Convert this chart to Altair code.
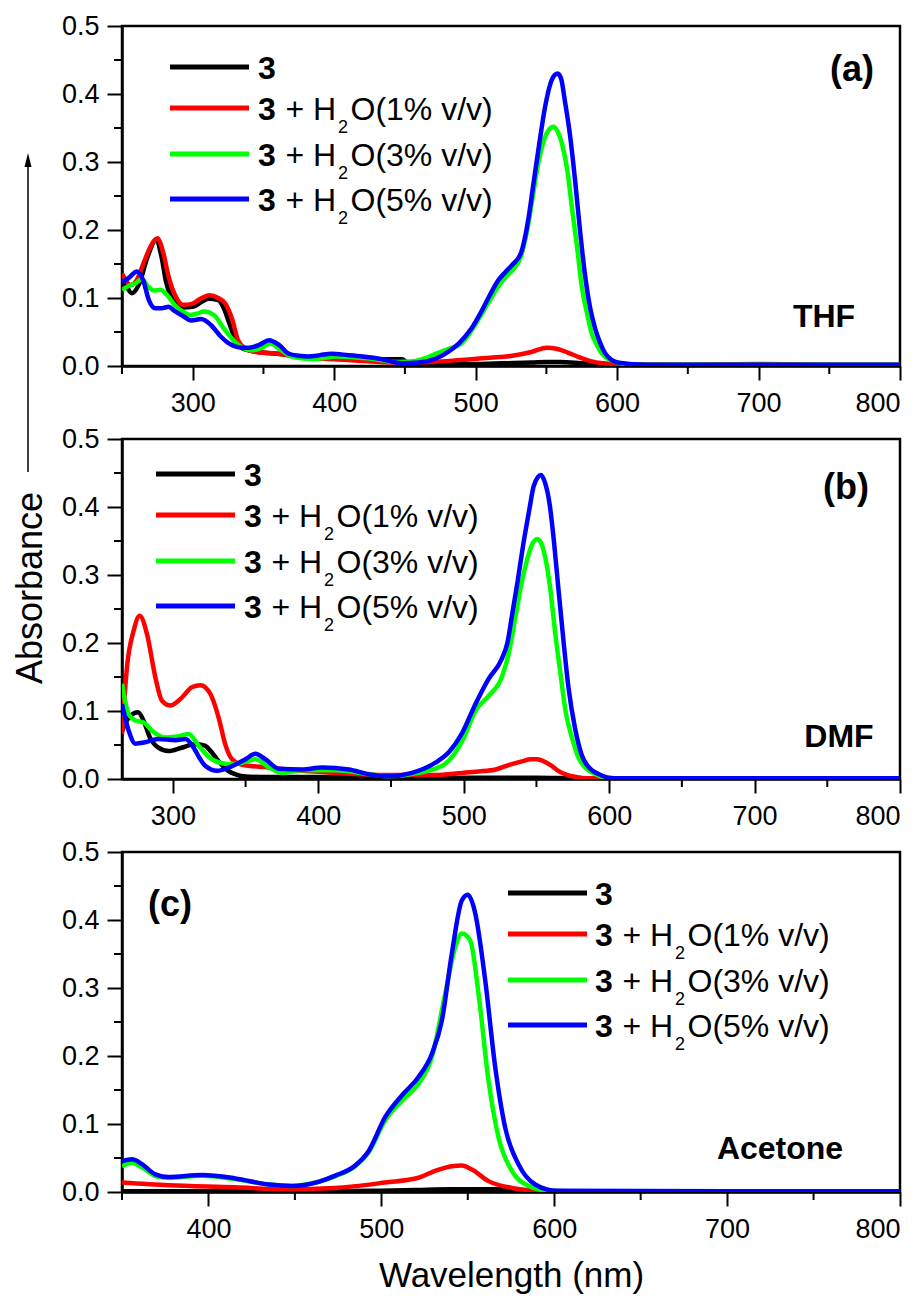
import altair as alt
import pandas as pd

FONT = "Liberation Sans"
COLORS = ["#000000", "#ff0000", "#00ff00", "#0000ff"]

# legend text pieces (bold "3", then regular text, subscript 2, tail)
LEG_BOLD = ["3", "3", "3", "3"]
LEG_PLUS = ["", "+ H", "+ H", "+ H"]
LEG_SUB = ["", "2", "2", "2"]
LEG_TAIL = ["", "O(1% v/v)", "O(3% v/v)", "O(5% v/v)"]

Y_MAJOR = [0.0, 0.1, 0.2, 0.3, 0.4, 0.5]
Y_MINOR = [0.05, 0.15, 0.25, 0.35, 0.45]

# ---------------- Panel (a) THF ----------------
A_X_MAJOR = [300, 400, 500, 600, 700, 800]
A_X_MINOR = [250, 350, 450, 550, 650, 750]
A_BLACK_WL = [250, 253, 257, 262, 268, 274, 278, 281, 284, 288, 293, 300, 306, 311, 318, 322, 326, 330, 335, 345,
              360, 380, 400, 425, 448, 452, 460, 480, 500, 520, 540, 550, 560, 575, 590, 600, 650, 700, 750, 800]
A_BLACK_AB = [0.130, 0.118, 0.107, 0.120, 0.160, 0.185, 0.160, 0.125, 0.105, 0.092, 0.086, 0.087, 0.094, 0.099,
              0.097, 0.085, 0.062, 0.040, 0.026, 0.021, 0.018, 0.013, 0.011, 0.010, 0.010, 0.005, 0.004, 0.003,
              0.003, 0.004, 0.005, 0.006, 0.006, 0.004, 0.002, 0.001, 0.001, 0.001, 0.001, 0.001]
A_RED_WL = [250, 253, 256, 260, 265, 270, 275, 279, 283, 288, 293, 299, 306, 312, 318, 323, 328, 332, 337, 344,
            360, 377, 400, 424, 448, 470, 490, 510, 526, 540, 550, 558, 566, 573, 580, 590, 600, 650, 700, 750, 800]
A_RED_AB = [0.136, 0.125, 0.119, 0.125, 0.150, 0.175, 0.188, 0.168, 0.131, 0.102, 0.090, 0.091, 0.0995, 0.104,
            0.100, 0.092, 0.068, 0.038, 0.026, 0.021, 0.018, 0.013, 0.010, 0.007, 0.005, 0.006, 0.009, 0.012,
            0.015, 0.021, 0.027, 0.025, 0.019, 0.013, 0.008, 0.004, 0.003, 0.002, 0.003, 0.002, 0.002]
A_GREEN_WL = [250, 255, 260, 264, 268, 273, 277, 282, 288, 293, 298, 303, 308, 315, 322, 331, 336, 341, 348, 355,
              362, 371, 385, 402, 425, 444, 456, 465, 473, 482, 490, 498, 505, 511, 516, 521, 526, 532, 536, 540,
              544, 547, 551, 555, 558, 561, 565, 568, 572, 575, 579, 582, 586, 589, 594, 599, 610, 650, 700, 750, 800]
A_GREEN_AB = [0.112, 0.118, 0.122, 0.128, 0.118, 0.111, 0.112, 0.104, 0.088, 0.080, 0.075, 0.077, 0.080, 0.075,
              0.055, 0.033, 0.026, 0.023, 0.026, 0.033, 0.024, 0.013, 0.010, 0.014, 0.011, 0.006, 0.007, 0.012,
              0.019, 0.026, 0.033, 0.055, 0.079, 0.100, 0.117, 0.130, 0.141, 0.161, 0.195, 0.244, 0.295, 0.323,
              0.345, 0.352, 0.345, 0.327, 0.285, 0.234, 0.170, 0.117, 0.075, 0.048, 0.030, 0.019, 0.010, 0.006,
              0.002, 0.002, 0.002, 0.002, 0.002]
A_BLUE_WL = [250, 255, 260.5, 265, 269, 273.5, 278, 283, 287, 292, 299, 306, 313, 320, 325, 330, 335, 340, 347, 354,
             361, 368, 375, 382, 390, 398, 410, 420, 434, 448, 460, 472, 480, 488, 497, 504, 510, 516, 521, 526,
             532, 537.5, 541, 545, 549, 553, 556, 558, 560.5, 563, 567, 570.5, 574, 577.5, 581, 584.5, 588, 591.5,
             596, 601, 620, 650, 700, 750, 800]
A_BLUE_AB = [0.122, 0.130, 0.139, 0.126, 0.097, 0.085, 0.085, 0.087, 0.081, 0.075, 0.067, 0.069, 0.060, 0.043,
             0.034, 0.029, 0.027, 0.027, 0.031, 0.038, 0.031, 0.018, 0.015, 0.014, 0.016, 0.018, 0.016, 0.014,
             0.010, 0.004, 0.005, 0.011, 0.020, 0.033, 0.055, 0.080, 0.104, 0.126, 0.138, 0.149, 0.166, 0.219,
             0.270, 0.327, 0.380, 0.416, 0.428, 0.430, 0.422, 0.391, 0.335, 0.269, 0.195, 0.131, 0.085, 0.055,
             0.034, 0.019, 0.009, 0.005, 0.002, 0.002, 0.002, 0.002, 0.002]

# ---------------- Panel (b) DMF ----------------
B_X_MAJOR = [300, 400, 500, 600, 700, 800]
B_X_MINOR = [350, 450, 550, 650, 750]
B_BLACK_WL = [265, 268, 272, 276, 280, 284, 290, 297, 306, 315, 322, 326, 330, 334, 338, 343, 348, 360, 400, 450,
              500, 550, 580, 600, 700, 800]
B_BLACK_AB = [0.070, 0.085, 0.095, 0.098, 0.085, 0.062, 0.046, 0.041, 0.046, 0.051, 0.049, 0.041, 0.030, 0.020,
              0.012, 0.007, 0.004, 0.003, 0.003, 0.002, 0.002, 0.002, 0.001, 0.001, 0.001, 0.001]
B_RED_WL = [265, 268.4, 273, 277.2, 282.2, 288, 292.5, 298.2, 306.3, 313, 319, 325.8, 331.5, 336, 340.7, 347.5,
            366, 389, 412, 446, 480, 499, 510, 522, 533, 540, 546, 550, 554, 560, 565, 571, 577, 585, 600, 700, 800]
B_RED_AB = [0.066, 0.164, 0.218, 0.240, 0.213, 0.149, 0.115, 0.108, 0.120, 0.135, 0.138, 0.125, 0.090, 0.051,
            0.029, 0.021, 0.017, 0.012, 0.009, 0.006, 0.006, 0.009, 0.011, 0.014, 0.022, 0.026, 0.029, 0.029,
            0.027, 0.020, 0.012, 0.006, 0.003, 0.001, 0.001, 0.001, 0.001]
B_GREEN_WL = [265, 269.6, 274.2, 280, 285.6, 294.8, 301.7, 310.8, 317.7, 326.9, 338.4, 347.5, 356.7, 366, 375, 389,
              412, 435, 448, 469, 487, 499, 508, 517, 526, 531, 535.5, 540, 543.5, 547, 550.4, 553, 556, 559.5,
              563, 566.5, 570, 574.5, 579, 585, 590.5, 600, 700, 800]
B_GREEN_AB = [0.140, 0.095, 0.086, 0.083, 0.071, 0.061, 0.062, 0.066, 0.049, 0.029, 0.022, 0.024, 0.029, 0.017,
              0.009, 0.013, 0.013, 0.007, 0.004, 0.009, 0.022, 0.056, 0.100, 0.122, 0.149, 0.185, 0.238, 0.290,
              0.322, 0.345, 0.353, 0.348, 0.326, 0.280, 0.213, 0.155, 0.100, 0.060, 0.031, 0.014, 0.007, 0.001,
              0.001, 0.001]
B_BLUE_WL = [265, 269.6, 274.2, 281, 290, 301.7, 308.6, 314.3, 318, 322.4, 330.4, 340.7, 349.9, 356.7, 363.6, 372.8,
             388.8, 402.6, 420.9, 434.6, 448.4, 464.4, 480.5, 490, 499, 508, 517, 526, 530, 533, 537, 541, 545, 548,
             551, 553, 556, 559, 562, 565, 568.5, 572, 576.5, 581, 587, 593, 604, 700, 800]
B_BLUE_AB = [0.110, 0.071, 0.052, 0.054, 0.059, 0.057, 0.059, 0.046, 0.032, 0.019, 0.012, 0.019, 0.029, 0.037,
             0.029, 0.015, 0.014, 0.017, 0.014, 0.007, 0.004, 0.009, 0.024, 0.040, 0.068, 0.110, 0.147, 0.176,
             0.200, 0.238, 0.290, 0.346, 0.395, 0.430, 0.444, 0.447, 0.435, 0.405, 0.350, 0.282, 0.205, 0.135,
             0.075, 0.036, 0.015, 0.007, 0.001, 0.001, 0.001]

# ---------------- Panel (c) Acetone ----------------
C_X_MAJOR = [400, 500, 600, 700, 800]
C_X_MINOR = [350, 450, 550, 650, 750]
C_BLACK_WL = [350, 400, 450, 500, 520, 540, 555, 570, 580, 600, 700, 800]
C_BLACK_AB = [0.001, 0.001, 0.001, 0.002, 0.003, 0.004, 0.004, 0.004, 0.002, 0.001, 0.001, 0.001]
C_RED_WL = [350, 377, 415.5, 444.4, 473.3, 502.2, 521.5, 531.1, 540.8, 546.6, 552.4, 562, 575.5, 590.9, 620, 700, 800]
C_RED_AB = [0.014, 0.010, 0.007, 0.004, 0.006, 0.014, 0.021, 0.031, 0.038, 0.039, 0.033, 0.016, 0.006, 0.002,
            0.001, 0.001, 0.001]
C_GREEN_WL = [350, 355.8, 361.6, 371.2, 377, 396.3, 415.5, 434.8, 448.3, 463.7, 473.3, 484.9, 492.6, 502.2, 511.9,
              521.5, 529.2, 536.9, 542.7, 546.6, 551.4, 556.2, 562, 567.8, 575.5, 585.2, 596.7, 620, 700, 800]
C_GREEN_AB = [0.038, 0.043, 0.036, 0.022, 0.021, 0.024, 0.019, 0.011, 0.009, 0.015, 0.023, 0.038, 0.058, 0.105,
              0.134, 0.159, 0.198, 0.291, 0.360, 0.380, 0.370, 0.292, 0.164, 0.080, 0.031, 0.009, 0.002, 0.001,
              0.001, 0.001]
C_BLUE_WL = [350, 355.8, 361.6, 369.3, 377, 396.3, 415.5, 434.8, 448.3, 463.7, 473.3, 484.9, 492.6, 502.2, 511.9,
             521.5, 529.2, 535, 540.8, 546.6, 550, 554.3, 560.1, 565.9, 571.6, 579.3, 589, 600.6, 700, 800]
C_BLUE_AB = [0.045, 0.048, 0.041, 0.026, 0.022, 0.025, 0.020, 0.011, 0.009, 0.015, 0.024, 0.039, 0.060, 0.110,
             0.142, 0.169, 0.203, 0.252, 0.351, 0.429, 0.437, 0.410, 0.311, 0.183, 0.095, 0.041, 0.011, 0.002,
             0.001, 0.001]

W, H = 778, 340
BLANK = pd.DataFrame({"k": [0]})


def text_at(txt, x, y, size, weight="normal", align="center", angle=0):
    return alt.Chart(BLANK).mark_text(
        text=txt, font=FONT, fontSize=size, fontWeight=weight, align=align,
        baseline="alphabetic", angle=angle, color="black",
    ).encode(x=alt.value(x), y=alt.value(y))


def rule_at(x, x2, y, color, width):
    return alt.Chart(BLANK).mark_rule(color=color, strokeWidth=width).encode(
        x=alt.value(x), x2=alt.value(x2), y=alt.value(y))


def panel(series, xdom, xmajor, xminor, line_x, text_x, row0, tag, tag_xy, solvent, solvent_xy, xtitle=None,
          extra=()):
    xscale = alt.Scale(domain=xdom, nice=False, zero=False)
    yscale = alt.Scale(domain=[0, 0.5], nice=False)
    xaxis_kw = dict(values=xmajor, format="d", tickSize=14, labelPadding=10)
    if xtitle:
        xaxis_kw.update(title=xtitle, titlePadding=16)
    else:
        xaxis_kw.update(title="")
    xaxis = alt.Axis(**xaxis_kw)
    yaxis = alt.Axis(values=Y_MAJOR, format=".1f", tickSize=15, labelPadding=8, title="")

    layers = []
    for i, (wl, ab) in enumerate(series):
        df = pd.DataFrame({"wl": wl, "A": ab})
        layers.append(
            alt.Chart(df).mark_line(color=COLORS[i], strokeWidth=4.5, interpolate="monotone", clip=True).encode(
                x=alt.X("wl:Q", scale=xscale, axis=xaxis),
                y=alt.Y("A:Q", scale=yscale, axis=yaxis),
            )
        )
    # minor ticks
    layers.append(
        alt.Chart(pd.DataFrame({"wl": xminor})).mark_rule(color="black", strokeWidth=2).encode(
            x=alt.X("wl:Q", scale=xscale, axis=xaxis), y=alt.value(H), y2=alt.value(H + 8))
    )
    layers.append(
        alt.Chart(pd.DataFrame({"A": Y_MINOR})).mark_rule(color="black", strokeWidth=2).encode(
            y=alt.Y("A:Q", scale=yscale, axis=yaxis), x=alt.value(-8), x2=alt.value(0))
    )
    # manual legend
    offsets = [0, 41, 87, 132]
    for i, col in enumerate(COLORS):
        ly = row0 + offsets[i]
        layers.append(rule_at(line_x, line_x + 79, ly, col, 5))
        by = ly + 12
        if LEG_BOLD[i]:
            layers.append(text_at(LEG_BOLD[i], text_x, by, 32, "bold", "left"))
        if LEG_PLUS[i]:
            layers.append(text_at(LEG_PLUS[i], text_x + 27.5, by, 32, "normal", "left"))
        if LEG_SUB[i]:
            layers.append(text_at(LEG_SUB[i], text_x + 80, by + 13, 18, "normal", "left"))
        if LEG_TAIL[i]:
            layers.append(text_at(LEG_TAIL[i], text_x + 92.5, by, 32, "normal", "left"))
    layers.append(text_at(tag, tag_xy[0], tag_xy[1], 36, "bold"))
    layers.append(text_at(solvent, solvent_xy[0], solvent_xy[1], 32, "bold"))
    layers.extend(extra)
    return alt.layer(*layers).properties(width=W, height=H)


# y-axis title with arrow (placed relative to panel b)
arrow_line = alt.Chart(BLANK).mark_rule(color="black", strokeWidth=1.5).encode(
    x=alt.value(-94), y=alt.value(-278), y2=alt.value(33))
arrow_head = alt.Chart(BLANK).mark_point(shape="M0,-1L0.5,1L-0.5,1Z", filled=True, size=196, color="black",
                                          opacity=1).encode(x=alt.value(-94), y=alt.value(-279))
ytitle = text_at("Absorbance", -80, 149, 36, "normal", "center", 270)

pa = panel([(A_BLACK_WL, A_BLACK_AB), (A_RED_WL, A_RED_AB), (A_GREEN_WL, A_GREEN_AB), (A_BLUE_WL, A_BLUE_AB)],
           [250, 800], A_X_MAJOR, A_X_MINOR, 48, 136, 41, "(a)", (730, 55), "THF", (702, 301))
pb = panel([(B_BLACK_WL, B_BLACK_AB), (B_RED_WL, B_RED_AB), (B_GREEN_WL, B_GREEN_AB), (B_BLUE_WL, B_BLUE_AB)],
           [265, 800], B_X_MAJOR, B_X_MINOR, 34, 122, 35, "(b)", (724, 60), "DMF", (717, 308),
           extra=(arrow_line, arrow_head, ytitle))
pc = panel([(C_BLACK_WL, C_BLACK_AB), (C_RED_WL, C_RED_AB), (C_GREEN_WL, C_GREEN_AB), (C_BLUE_WL, C_BLUE_AB)],
           [350, 800], C_X_MAJOR, C_X_MINOR, 386, 473, 41, "(c)", (48, 64), "Acetone", (658, 307),
           xtitle="Wavelength (nm)")

chart = alt.vconcat(pa, pb, pc, spacing=73, bounds="flush").properties(
    padding={"left": 3, "top": 2, "right": 5, "bottom": 5}
).configure_axis(
    domainColor="black", domainWidth=2.5, tickColor="black", tickWidth=2, grid=False,
    labelFont=FONT, labelFontSize=27, labelColor="black",
    titleFont=FONT, titleFontSize=35, titleFontWeight="normal", titleColor="black",
).configure_view(stroke="black", strokeWidth=2.5)

chart.save("out.html", embed_options={"renderer": "svg", "actions": False})
